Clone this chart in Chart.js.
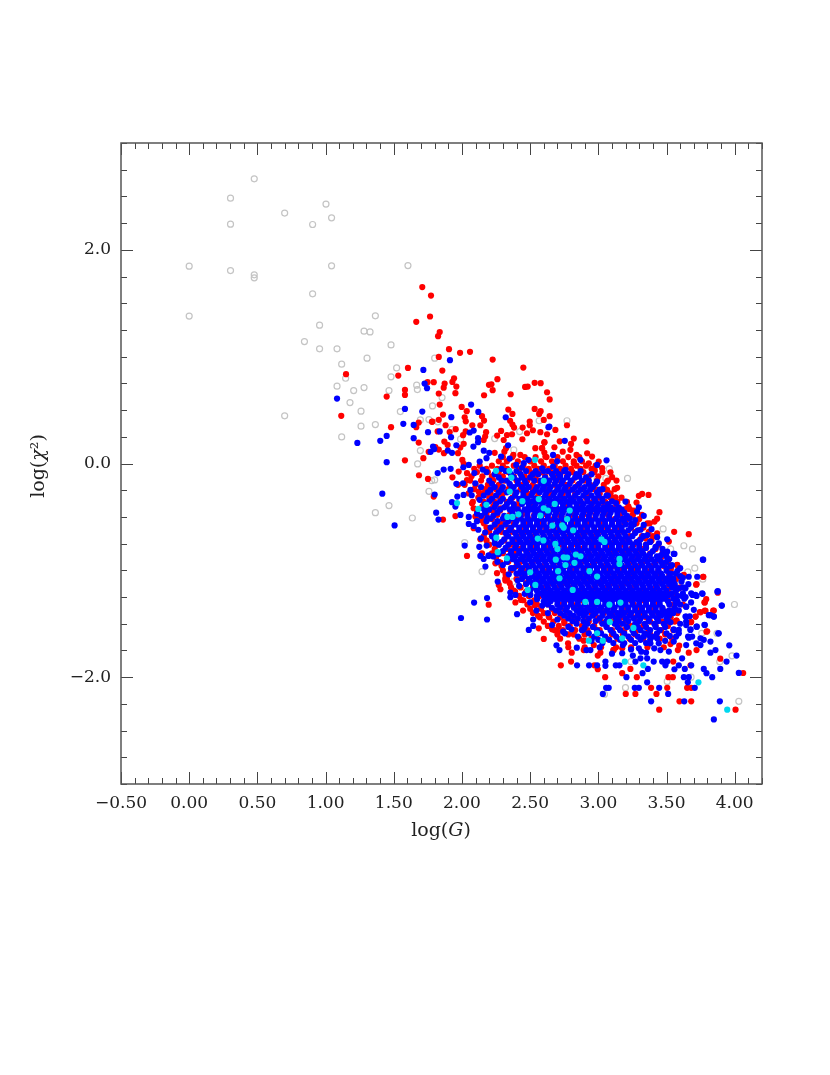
<!DOCTYPE html>
<html>
<head>
<meta charset="utf-8">
<title>log(G) vs log(chi2)</title>
<script src="https://cdn.jsdelivr.net/npm/chart.js@4/dist/chart.umd.min.js"></script>
<style>
  html, body { margin: 0; padding: 0; background: #fff; }
  canvas { display: block; }
</style>
</head>
<body>
<canvas id="scatterChart" width="830" height="1075"></canvas>
<script>
// values, [log G, log chi2]
const greyPoints = [
  [0.00,1.847],[0.00,1.38],[0.303,2.484],[0.303,2.24],[0.303,1.806],[0.477,2.665],[0.477,1.766],[0.477,1.738],
  [0.70,2.344],[0.70,0.446],[0.905,2.237],[0.905,1.588],[0.956,1.295],[0.956,1.073],[0.845,1.141],[1.003,2.428],
  [1.044,2.30],[1.044,1.85],[1.084,1.073],[1.118,0.93],[1.147,0.798],[1.084,0.724],[1.206,0.683],[1.282,0.711],
  [1.179,0.57],[1.26,0.49],[1.26,0.349],[1.365,0.364],[1.118,0.249],[1.282,1.239],[1.326,1.232],[1.365,1.382],
  [1.48,1.11],[1.304,0.986],[1.604,1.853],[1.521,0.895],[1.48,0.811],[1.465,0.683],[1.668,0.733],[1.673,0.692],
  [1.80,0.986],[1.784,0.539],[1.548,0.486],[1.695,0.408],[1.758,0.411],[1.823,0.39],[1.695,0.121],[1.675,-0.004],
  [1.854,0.617],[1.99,0.228],[2.24,0.233],[2.423,0.299],[2.566,0.40],[2.38,0.127],[1.778,-0.16],[1.80,-0.154],
  [1.758,-0.26],[1.465,-0.394],[1.365,-0.46],[1.636,-0.51],[2.02,-0.74],[1.927,0.32],[2.77,0.40],[2.99,-0.147],
  [3.08,-0.05],[3.055,-0.14],[3.214,-0.14],[3.475,-0.612],[3.627,-0.77],[3.69,-0.80],[3.53,-0.80],[3.707,-0.98],
  [3.656,-1.015],[3.766,-1.083],[3.998,-1.32],[3.758,-1.59],[3.87,-1.59],[2.147,-1.012],[2.375,-1.106],[2.893,-1.62],
  [3.199,-2.098],[3.045,-2.16],[3.505,-2.04],[3.68,-2.0],[3.89,-1.855],[3.98,-1.80],[4.03,-2.226],[3.24,-1.855],
  [3.573,-1.26],[3.565,-1.106]
];

const redPoints = [
  [1.709,1.651],[1.773,1.572],[1.766,1.376],[1.665,1.326],[1.825,1.192],[1.837,1.23],[1.83,0.998],[1.15,0.836],
  [1.604,0.895],[1.533,0.823],[1.748,0.761],[1.793,0.761],[1.582,0.689],[1.582,0.642],[1.448,0.626],[1.83,0.655],
  [1.837,0.552],[1.115,0.446],[1.48,0.34],[1.683,0.383],[1.665,0.34],[1.78,0.39],[1.83,0.409],[1.683,0.196],
  [1.756,0.109],[1.83,0.13],[1.805,0.153],[1.582,0.03],[1.717,0.05],[1.905,1.07],[1.986,1.036],[2.059,1.045],
  [2.225,0.973],[1.856,0.87],[2.45,0.898],[2.26,0.789],[1.942,0.798],[1.93,0.764],[1.959,0.72],[1.873,0.748],
  [1.866,0.71],[2.198,0.736],[2.216,0.742],[2.225,0.686],[2.162,0.639],[2.357,0.648],[1.952,0.658],[2.463,0.717],
  [2.482,0.72],[2.533,0.755],[2.577,0.752],[2.624,0.667],[2.643,0.60],[1.998,0.53],[2.035,0.49],[2.34,0.505],
  [2.37,0.464],[2.533,0.511],[2.577,0.49],[2.566,0.464],[2.643,0.443],[1.861,0.458],[2.02,0.433],[2.028,0.395],
  [2.147,0.443],[2.162,0.402],[2.135,0.358],[2.353,0.40],[2.37,0.364],[2.382,0.336],[2.497,0.393],[2.497,0.358],
  [2.445,0.336],[2.60,0.408],[1.88,0.358],[1.783,0.392],[2.076,0.358],[1.954,0.321],[1.91,0.295],[1.822,0.30],
  [2.008,0.265],[2.027,0.30],[2.177,0.293],[2.17,0.252],[2.287,0.305],[2.258,0.261],[2.33,0.267],[2.367,0.274],
  [2.477,0.283],[2.52,0.311],[2.575,0.293],[2.624,0.274],[2.306,0.22],[2.443,0.227],[2.604,0.196],[1.871,0.205],
  [1.895,0.174],[2.013,0.184],[1.988,0.149],[2.159,0.22],[2.323,0.143],[2.311,0.111],[2.538,0.143],[2.587,0.143],
  [2.604,0.102],[1.868,0.097],[1.971,0.097],[2.003,0.033],[2.013,-0.003],[2.24,0.10],[2.377,0.08],[2.428,0.08],
  [1.685,-0.11],[1.751,-0.144],[1.93,-0.129],[1.793,-0.31],[1.861,-0.525],[1.952,-0.492],[2.037,-0.091],[1.976,-0.076],
  [2.074,-0.372],[2.086,-0.419],[2.098,-0.497],[2.135,-0.528],[2.086,-0.606],[1.971,-0.20],[2.135,-0.709],[2.037,-0.865],
  [2.147,-0.84],[2.208,-0.435],[2.233,-0.45],[2.123,-0.262],[2.159,-0.278],[2.037,-0.155],[2.282,-0.42],
  [2.77,0.358],[2.685,0.314],[2.717,0.208],[2.82,0.233],[2.80,0.183],[2.795,0.128],[2.913,0.208],[2.678,0.152],
  [2.605,0.20],[2.588,0.143],[2.612,0.065],[2.739,0.111],[2.84,0.08],[2.918,0.096],[2.954,0.065],[2.93,0.002],
  [2.82,0.002],[2.974,-0.066],[3.003,0.018],[3.028,-0.044],[3.089,-0.082],[3.064,-0.169],[3.133,-0.16],[3.101,-0.128],
  [3.138,-0.228],[3.064,-0.247],[2.991,-0.247],[3.125,-0.316],[3.297,-0.303],[3.321,-0.285],[3.368,-0.294],[3.28,-0.366],
  [3.199,-0.428],[3.23,-0.428],[3.253,-0.484],[3.448,-0.456],[3.431,-0.516],[3.412,-0.544],[3.377,-0.56],[3.556,-0.64],
  [3.663,-0.662],[3.431,-0.653],[3.346,-0.70],[3.517,-0.731],[3.578,-0.95],[3.534,-0.974],[3.622,-1.05],[3.769,-1.06],
  [3.717,-1.134],[3.791,-1.27],[3.59,-1.168],[3.778,-1.30],[3.573,-1.47],[3.713,-1.433],[3.749,-1.393],[3.786,-1.38],
  [3.842,-1.378],[3.681,-1.483],[3.798,-1.57],[2.196,-1.321],[2.245,-0.934],[2.282,-0.928],[2.257,-1.027],[2.318,-1.074],
  [2.318,-1.096],[2.27,-1.137],[2.282,-1.177],[2.38,-1.19],[2.433,-1.277],[2.392,-1.30],[2.448,-1.377],[2.563,-1.543],
  [2.558,-1.424],[2.636,-1.433],[2.534,-1.327],[2.60,-1.642],[2.661,-1.552],[2.702,-1.574],[2.751,-1.496],[2.82,-1.60],
  [2.778,-1.683],[2.893,-1.658],[2.805,-1.771],[2.893,-1.746],[2.80,-1.854],[2.725,-1.889],[2.996,-1.798],[3.015,-1.771],
  [2.967,-1.7],[2.971,-1.889],[2.996,-1.926],[3.11,-1.746],[3.175,-1.73],[3.235,-1.923],[3.175,-1.963],[3.05,-2.0],
  [3.282,-2.0],[3.387,-2.1],[3.426,-2.157],[3.201,-2.157],[3.272,-2.157],[3.505,-2.1],[3.514,-2.0],[3.546,-2.0],
  [3.651,-2.1],[3.681,-2.1],[3.595,-2.226],[3.681,-2.226],[3.446,-2.304],[4.006,-2.304],[4.062,-1.961],[3.894,-1.827],
  [3.676,-1.889],[3.549,-1.854],[3.663,-1.771],[3.72,-1.746],[3.593,-1.705],[3.583,-1.746],[3.529,-1.69],[3.793,-1.574],
  [3.847,-1.377],[3.781,-1.377],[3.744,-1.39],[3.712,-1.433],[3.676,-1.486],[3.781,-1.3],[3.72,-1.13],[3.578,-0.949],
  [3.627,-1.043],[3.769,-1.06],[3.876,-1.21],[3.573,-1.47],[3.113,-1.745]
];

// dense middle of the red cloud, each row is [log chi2, log G, log G, ...]
const redCoreRows = [
  [0.02,2.27,2.33,2.41,2.50,2.58,2.66,2.74,2.82,2.88],
  [-0.05,2.09,2.18,2.26,2.33,2.42,2.49,2.56,2.64,2.72,2.80,2.87,2.95],
  [-0.12,2.07,2.15,2.22,2.30,2.38,2.46,2.54,2.61,2.69,2.77,2.85,2.93,3.00],
  [-0.20,2.02,2.10,2.19,2.27,2.35,2.44,2.52,2.60,2.68,2.76,2.85,2.94,3.04],
  [-0.28,2.05,2.13,2.21,2.30,2.39,2.48,2.56,2.65,2.74,2.83,2.92,3.01,3.09],
  [-0.36,2.08,2.16,2.24,2.33,2.42,2.51,2.60,2.69,2.78,2.87,2.96,3.05,3.14,3.21],
  [-0.44,2.11,2.19,2.28,2.37,2.46,2.55,2.64,2.73,2.82,2.91,3.00,3.09,3.18,3.26],
  [-0.52,2.15,2.22,2.31,2.40,2.49,2.58,2.67,2.76,2.85,2.94,3.03,3.12,3.21,3.30],
  [-0.60,2.18,2.25,2.34,2.43,2.52,2.61,2.70,2.79,2.88,2.97,3.06,3.15,3.24,3.33],
  [-0.68,2.16,2.24,2.33,2.42,2.51,2.60,2.69,2.78,2.87,2.96,3.05,3.14,3.23,3.32,3.40],
  [-0.76,2.20,2.27,2.36,2.45,2.54,2.63,2.72,2.81,2.90,2.99,3.08,3.17,3.26,3.35,3.44],
  [-0.84,2.22,2.30,2.39,2.48,2.57,2.66,2.75,2.84,2.93,3.02,3.11,3.20,3.29,3.38,3.47],
  [-0.92,2.27,2.34,2.43,2.52,2.61,2.70,2.79,2.88,2.97,3.06,3.15,3.24,3.33,3.42,3.51],
  [-1.00,2.30,2.36,2.45,2.54,2.63,2.72,2.81,2.90,2.99,3.08,3.17,3.26,3.35,3.44,3.53],
  [-1.08,2.33,2.40,2.49,2.58,2.67,2.76,2.85,2.94,3.03,3.12,3.21,3.30,3.39,3.48,3.57],
  [-1.16,2.36,2.43,2.52,2.61,2.70,2.79,2.88,2.97,3.06,3.15,3.24,3.33,3.42,3.51,3.60],
  [-1.24,2.42,2.49,2.57,2.66,2.75,2.84,2.93,3.02,3.11,3.20,3.29,3.38,3.47,3.56],
  [-1.32,2.48,2.55,2.63,2.72,2.81,2.90,2.99,3.08,3.17,3.26,3.35,3.44,3.53,3.62],
  [-1.40,2.52,2.60,2.68,2.77,2.86,2.95,3.04,3.13,3.22,3.31,3.40,3.49,3.58],
  [-1.48,2.60,2.67,2.75,2.84,2.93,3.02,3.11,3.20,3.29,3.38,3.47,3.56],
  [-1.56,2.68,2.74,2.83,2.92,3.01,3.10,3.19,3.28,3.37,3.46,3.55],
  [-1.64,2.72,2.86,2.95,3.06,3.14,3.23,3.33,3.45,3.54],
  [-1.72,2.78,2.90,3.02,3.13,3.24,3.36,3.48]
];

// second pass over the red cloud, sitting between the rows above
const redFillRows = [
  [0.06,2.30,2.37,2.46,2.54,2.62,2.70,2.78,2.86],
  [-0.02,2.13,2.22,2.30,2.38,2.45,2.53,2.60,2.68,2.76,2.84,2.91,2.98],
  [-0.08,2.11,2.19,2.27,2.34,2.42,2.50,2.58,2.65,2.73,2.81,2.89,2.97,3.03],
  [-0.16,2.06,2.14,2.23,2.31,2.40,2.48,2.56,2.64,2.72,2.81,2.90,2.99,3.07],
  [-0.24,2.09,2.17,2.25,2.34,2.43,2.52,2.61,2.70,2.79,2.88,2.97,3.05,3.12],
  [-0.32,2.12,2.20,2.28,2.37,2.46,2.55,2.64,2.73,2.82,2.91,3.00,3.09,3.17],
  [-0.40,2.15,2.23,2.32,2.41,2.50,2.59,2.68,2.77,2.86,2.95,3.04,3.13,3.22],
  [-0.48,2.18,2.26,2.35,2.44,2.53,2.62,2.71,2.80,2.89,2.98,3.07,3.16,3.25,3.32],
  [-0.56,2.16,2.28,2.38,2.47,2.56,2.65,2.74,2.83,2.92,3.01,3.10,3.19,3.28,3.36],
  [-0.64,2.20,2.29,2.37,2.46,2.55,2.64,2.73,2.82,2.91,3.00,3.09,3.18,3.27,3.37],
  [-0.72,2.18,2.31,2.40,2.49,2.58,2.67,2.76,2.85,2.94,3.03,3.12,3.21,3.30,3.39],
  [-0.80,2.24,2.33,2.43,2.52,2.61,2.70,2.79,2.88,2.97,3.06,3.15,3.24,3.33,3.42],
  [-0.88,2.25,2.38,2.47,2.56,2.65,2.74,2.83,2.92,3.01,3.10,3.19,3.28,3.37,3.46],
  [-0.96,2.29,2.40,2.49,2.58,2.67,2.76,2.85,2.94,3.03,3.12,3.21,3.30,3.39,3.48],
  [-1.04,2.32,2.44,2.53,2.62,2.71,2.80,2.89,2.98,3.07,3.16,3.25,3.34,3.43,3.52],
  [-1.12,2.35,2.47,2.56,2.65,2.74,2.83,2.92,3.01,3.10,3.19,3.28,3.37,3.46,3.55],
  [-1.20,2.39,2.47,2.61,2.70,2.79,2.88,2.97,3.06,3.15,3.24,3.33,3.42,3.51],
  [-1.28,2.45,2.53,2.61,2.70,2.79,2.88,2.97,3.06,3.15,3.24,3.33,3.42,3.51],
  [-1.36,2.50,2.58,2.66,2.75,2.84,2.93,3.02,3.11,3.20,3.29,3.38,3.47,3.56],
  [-1.44,2.57,2.64,2.72,2.81,2.90,2.99,3.08,3.17,3.26,3.35,3.44,3.53],
  [-1.52,2.63,2.71,2.79,2.88,2.97,3.06,3.15,3.24,3.33,3.42,3.51],
  [-1.60,2.70,2.78,2.90,2.99,3.10,3.18,3.27,3.38,3.49]
];

const bluePoints = [
  [1.717,0.876],[1.726,0.748],[1.744,0.705],[1.084,0.608],[1.582,0.511],[1.709,0.486],[1.57,0.371],[1.646,0.361],
  [1.751,0.293],[1.837,0.30],[1.448,0.258],[1.401,0.212],[1.233,0.193],[1.646,0.237],[1.788,0.158],[1.797,0.135],
  [1.77,0.109],[1.448,0.012],[1.912,0.967],[1.922,0.434],[2.067,0.552],[2.12,0.483],[2.321,0.433],[2.634,0.34],
  [2.057,0.29],[2.086,0.308],[1.92,0.246],[2.118,0.237],[2.118,0.20],[2.084,0.158],[1.959,0.171],[2.338,0.171],
  [1.896,0.121],[1.927,0.10],[2.16,0.12],[2.2,0.10],[2.18,0.05],[2.287,0.065],[2.35,0.046],[2.398,-0.013],
  [2.453,0.003],[2.487,0.034],[2.13,0.018],[1.866,-0.057],[1.917,-0.05],[1.822,-0.09],[2.01,-0.035],[2.05,-0.013],
  [2.091,-0.09],[2.152,-0.057],[1.959,-0.19],[2.008,-0.185],[2.098,-0.185],[2.062,-0.247],[1.80,-0.29],[1.966,-0.31],
  [2.012,-0.294],[2.071,-0.297],[1.416,-0.282],[1.927,-0.362],[1.952,-0.403],[1.811,-0.46],[1.828,-0.525],[1.989,-0.481],
  [2.05,-0.50],[1.506,-0.58],[2.11,-0.54],[2.05,-0.566],[2.086,-0.584],[2.02,-0.768],[2.127,-0.78],[2.181,-0.768],
  [2.135,-0.865],[2.24,-0.746],[2.196,-0.865],[2.17,-0.646],[2.188,-0.512],[2.16,-0.427],
  [2.641,0.346],[2.754,0.212],[2.668,0.08],[2.869,0.034],[3.06,0.03],[2.991,-0.013],[2.698,0.02],[2.668,-0.03],
  [2.759,-0.06],[2.588,-0.045],[3.199,-0.356],[3.297,-0.41],[3.284,-0.45],[3.333,-0.49],[3.24,-0.566],[3.333,-0.575],
  [3.39,-0.615],[3.431,-0.69],[3.505,-0.71],[3.444,-0.748],[3.382,-0.731],[3.553,-0.846],[3.505,-0.825],[3.455,-0.865],
  [3.769,-0.90],[3.5,-0.92],[3.566,-1.03],[3.663,-1.06],[3.725,-1.06],[3.634,-1.165],[3.578,-1.168],[3.529,-1.105],
  [3.69,-1.23],[3.72,-1.24],[3.764,-1.22],[3.873,-1.20],[3.905,-1.33],[3.847,-1.433],[3.822,-1.42],[3.644,-1.34],
  [3.614,-1.24],[3.517,-1.23],[3.639,-1.433],[3.644,-1.48],[3.72,-1.527],[3.778,-1.51],[3.675,-1.558],[3.883,-1.59],
  [3.553,-1.558],[3.59,-1.59],[3.529,-1.486],[3.492,-1.386],[3.553,-1.37],[3.566,-1.31],[3.658,-1.62],[3.749,-1.636],
  [1.993,-1.446],[2.089,-1.302],[2.184,-1.26],[2.184,-1.46],[2.196,-0.859],[2.159,-0.893],[2.172,-0.965],[2.27,-0.846],
  [2.355,-1.208],[2.355,-1.252],[2.392,-1.23],[2.262,-1.105],[2.343,-1.037],[2.409,-1.096],[2.419,-1.146],[2.502,-1.23],
  [2.551,-1.27],[2.546,-1.377],[2.404,-1.41],[2.522,-1.46],[2.522,-1.52],[2.49,-1.558],[2.661,-1.512],[2.742,-1.574],
  [2.754,-1.59],[2.693,-1.702],[2.715,-1.746],[2.842,-1.724],[2.913,-1.746],[2.942,-1.746],[2.803,-1.552],[2.893,-1.552],
  [2.844,-1.889],[2.932,-1.889],[2.991,-1.889],[3.052,-1.854],[3.052,-1.894],[3.128,-1.889],[3.155,-1.889],[3.175,-1.776],
  [3.253,-1.798],[3.272,-1.854],[3.206,-2.0],[3.324,-1.963],[3.363,-1.923],[3.358,-2.048],[3.057,-2.1],[3.076,-2.1],
  [3.033,-2.157],[3.267,-2.1],[3.297,-2.1],[3.446,-2.1],[3.512,-2.157],[3.387,-2.226],[3.63,-2.226],[3.891,-2.226],
  [3.847,-2.396],[3.707,-2.1],[3.656,-2.048],[3.627,-2.0],[3.663,-2.0],[3.59,-1.889],[3.558,-1.926],[3.634,-1.923],
  [3.681,-1.889],[3.773,-1.923],[3.793,-1.963],[3.835,-2.0],[3.894,-1.923],[3.94,-1.854],[4.013,-1.798],[4.03,-1.96],
  [3.96,-1.702],[3.859,-1.746],[3.822,-1.771],[3.614,-1.824],[3.505,-1.854],[3.492,-1.889],[3.406,-1.854],[3.358,-1.824],
  [3.309,-1.824],[3.468,-1.854],[3.455,-1.746],[3.517,-1.76],[3.443,-1.683],[3.524,-1.614],[3.382,-1.683],[3.314,-1.761],
  [3.297,-1.73],[3.333,-1.62],[3.37,-1.605],[3.431,-1.636],[3.553,-1.552],[3.59,-1.558],[3.553,-1.667],[3.676,-1.552],
  [3.663,-1.63],[3.688,-1.62],[3.718,-1.683],[3.749,-1.70],[3.644,-1.70],[3.773,-1.65],[3.822,-1.667],[3.879,-1.59],
  [3.722,-1.527],[3.781,-1.512],[3.644,-1.512],[3.644,-1.433],[3.644,-1.34],[3.847,-1.433],[3.81,-1.42],[3.905,-1.33],
  [3.761,-1.215],[3.712,-1.23],[3.681,-1.215],[3.876,-1.194],[3.639,-1.168],[3.59,-1.168],[3.766,-0.90],[3.558,-0.846],
  // around the rim of the dense part
  [2.29,-0.05],[2.44,-0.04],[2.60,-0.07],[2.72,-0.11],[2.86,-0.12],[2.95,-0.10],[2.99,-0.17],[3.03,-0.24],
  [3.07,-0.30],[3.13,-0.37],[3.17,-0.43],[3.21,-0.49],[3.27,-0.53],[3.31,-0.62],[3.36,-0.67],[3.42,-0.78],
  [3.47,-0.80],[3.50,-0.87],[3.53,-0.96],[3.60,-0.98],[3.62,-1.07],[3.66,-1.13],[3.64,-1.25],[3.68,-1.30],
  [3.70,-1.37],[3.67,-1.43],[3.60,-1.50],[3.57,-1.62],[3.49,-1.66],[3.41,-1.73],[3.35,-1.77],[3.24,-1.74],
  [3.18,-1.70],[3.10,-1.78],[3.01,-1.72],[2.95,-1.66],[2.85,-1.62],[2.78,-1.53],[2.70,-1.46],[2.63,-1.40],
  [2.59,-1.33],[2.50,-1.30],[2.46,-1.22],[2.42,-1.03],[2.36,-0.98],[2.30,-0.95],[2.26,-0.92],[2.23,-0.87],
  [2.14,-0.70],[2.12,-0.62],[2.11,-0.47],[2.13,-0.34],[2.14,-0.22],[2.20,-0.16],[2.24,-0.10],[2.18,-0.08]
];

// dense middle of the blue cloud, same row layout as redCoreRows
const blueCoreRows = [
  [-0.10,2.36,2.43,2.52,2.56,2.66,2.71,2.78,2.84],
  [-0.16,2.29,2.33,2.41,2.46,2.53,2.58,2.64,2.69,2.74,2.80,2.88,2.93],
  [-0.22,2.24,2.30,2.38,2.44,2.49,2.55,2.60,2.65,2.71,2.76,2.83,2.90,2.96],
  [-0.27,2.19,2.27,2.33,2.40,2.45,2.52,2.57,2.62,2.68,2.73,2.78,2.85,2.91,2.99],
  [-0.33,2.22,2.30,2.36,2.42,2.48,2.54,2.59,2.64,2.69,2.75,2.80,2.86,2.92,2.97,3.03],
  [-0.38,2.17,2.25,2.33,2.38,2.44,2.49,2.54,2.59,2.64,2.69,2.74,2.79,2.84,2.89,2.95,3.00,3.07],
  [-0.43,2.20,2.28,2.35,2.41,2.46,2.51,2.56,2.61,2.66,2.71,2.76,2.81,2.86,2.91,2.96,3.01,3.06,3.12],
  [-0.49,2.14,2.23,2.31,2.38,2.43,2.48,2.53,2.58,2.63,2.68,2.73,2.78,2.83,2.88,2.93,2.98,3.03,3.08,3.14],
  [-0.54,2.18,2.26,2.34,2.40,2.45,2.50,2.55,2.60,2.65,2.70,2.75,2.80,2.85,2.90,2.95,3.00,3.05,3.10,3.15,3.19],
  [-0.60,2.21,2.29,2.36,2.42,2.47,2.52,2.57,2.62,2.67,2.72,2.77,2.82,2.87,2.92,2.97,3.02,3.07,3.12,3.17,3.24],
  [-0.65,2.25,2.32,2.39,2.44,2.49,2.54,2.59,2.64,2.69,2.74,2.79,2.84,2.89,2.94,2.99,3.04,3.09,3.14,3.19,3.27],
  [-0.71,2.24,2.31,2.37,2.42,2.47,2.52,2.57,2.62,2.67,2.72,2.77,2.82,2.87,2.92,2.97,3.02,3.07,3.12,3.17,3.22,3.31],
  [-0.76,2.27,2.34,2.40,2.45,2.50,2.55,2.60,2.65,2.70,2.75,2.80,2.85,2.90,2.95,3.00,3.05,3.10,3.15,3.20,3.25,3.30,3.35],
  [-0.82,2.30,2.36,2.42,2.47,2.52,2.57,2.62,2.67,2.72,2.77,2.82,2.87,2.92,2.97,3.02,3.07,3.12,3.17,3.22,3.27,3.32,3.40],
  [-0.87,2.34,2.39,2.45,2.50,2.55,2.60,2.65,2.70,2.75,2.80,2.85,2.90,2.95,3.00,3.05,3.10,3.15,3.20,3.25,3.30,3.35,3.43],
  [-0.92,2.33,2.40,2.46,2.51,2.56,2.61,2.66,2.71,2.76,2.81,2.86,2.91,2.96,3.01,3.06,3.11,3.16,3.21,3.26,3.31,3.36,3.41,3.46],
  [-0.98,2.38,2.44,2.49,2.54,2.59,2.64,2.69,2.74,2.79,2.84,2.89,2.94,2.99,3.04,3.09,3.14,3.19,3.24,3.29,3.34,3.39,3.44,3.50],
  [-1.03,2.40,2.46,2.51,2.56,2.61,2.66,2.71,2.76,2.81,2.86,2.91,2.96,3.01,3.06,3.11,3.16,3.21,3.26,3.31,3.36,3.41,3.46,3.53],
  [-1.08,2.44,2.49,2.54,2.59,2.64,2.69,2.74,2.79,2.84,2.89,2.94,2.99,3.04,3.09,3.14,3.19,3.24,3.29,3.34,3.39,3.44,3.49,3.55],
  [-1.13,2.47,2.52,2.57,2.62,2.67,2.72,2.77,2.82,2.87,2.92,2.97,3.02,3.07,3.12,3.17,3.22,3.27,3.32,3.37,3.42,3.47,3.52,3.56],
  [-1.19,2.50,2.55,2.60,2.65,2.70,2.75,2.80,2.85,2.90,2.95,3.00,3.05,3.10,3.15,3.20,3.25,3.30,3.35,3.40,3.45,3.50,3.57],
  [-1.24,2.55,2.60,2.65,2.70,2.75,2.80,2.85,2.90,2.95,3.00,3.05,3.10,3.15,3.20,3.25,3.30,3.35,3.40,3.45,3.50,3.58],
  [-1.29,2.60,2.65,2.70,2.75,2.80,2.85,2.90,2.95,3.00,3.05,3.10,3.15,3.20,3.25,3.30,3.35,3.40,3.45,3.51,3.58],
  [-1.35,2.66,2.72,2.77,2.82,2.87,2.92,2.97,3.02,3.07,3.12,3.17,3.22,3.27,3.32,3.37,3.42,3.47,3.56],
  [-1.40,2.72,2.79,2.86,2.91,2.98,3.03,3.08,3.14,3.19,3.24,3.29,3.34,3.39,3.44,3.49,3.55],
  [-1.45,2.78,2.85,2.93,3.01,3.07,3.13,3.20,3.26,3.31,3.37,3.43,3.50],
  [-1.50,2.84,2.92,3.03,3.12,3.18,3.27,3.34,3.41,3.48],
  [-1.56,2.88,2.99,3.09,3.16,3.25,3.31,3.38,3.45],
  [-1.62,2.97,3.05,3.13,3.22,3.29,3.40],
  [-1.68,3.03,3.11,3.19,3.27,3.35]
];

// second pass over the blue cloud, sitting between the rows above
const blueFillRows = [
  [-0.07,2.32,2.40,2.47,2.54,2.63,2.69,2.75,2.87],
  [-0.13,2.27,2.38,2.44,2.50,2.61,2.67,2.72,2.77,2.83,2.91],
  [-0.19,2.22,2.35,2.41,2.47,2.58,2.63,2.68,2.73,2.79,2.86,2.93,2.98],
  [-0.245,2.21,2.29,2.36,2.47,2.54,2.59,2.64,2.70,2.75,2.81,2.87,2.94,3.01],
  [-0.30,2.16,2.25,2.39,2.45,2.51,2.61,2.67,2.72,2.78,2.83,2.89,2.95,3.00,3.06],
  [-0.355,2.20,2.28,2.35,2.46,2.52,2.57,2.62,2.67,2.72,2.77,2.82,2.87,2.92,2.98,3.03,3.10],
  [-0.41,2.24,2.31,2.38,2.49,2.53,2.58,2.63,2.69,2.74,2.79,2.84,2.88,2.93,2.99,3.04,3.09,3.15],
  [-0.46,2.17,2.26,2.37,2.43,2.48,2.54,2.59,2.64,2.69,2.74,2.79,2.84,2.89,2.94,2.99,3.04,3.09,3.14,3.19],
  [-0.515,2.21,2.30,2.37,2.43,2.48,2.53,2.58,2.63,2.68,2.73,2.78,2.83,2.88,2.93,2.98,3.03,3.08,3.13,3.18,3.23],
  [-0.57,2.24,2.32,2.39,2.45,2.50,2.55,2.60,2.65,2.70,2.75,2.80,2.85,2.90,2.95,3.00,3.05,3.10,3.15,3.20,3.26],
  [-0.625,2.27,2.35,2.42,2.47,2.52,2.57,2.62,2.67,2.72,2.77,2.82,2.87,2.92,2.97,3.02,3.07,3.12,3.17,3.22,3.29],
  [-0.68,2.22,2.34,2.40,2.45,2.50,2.55,2.60,2.65,2.70,2.75,2.80,2.85,2.90,2.95,3.00,3.05,3.10,3.15,3.20,3.25,3.33],
  [-0.735,2.29,2.37,2.43,2.48,2.53,2.58,2.63,2.68,2.73,2.78,2.83,2.88,2.93,2.98,3.03,3.08,3.13,3.18,3.23,3.28,3.38],
  [-0.79,2.32,2.39,2.45,2.50,2.55,2.60,2.65,2.70,2.75,2.80,2.85,2.90,2.95,3.00,3.05,3.10,3.15,3.20,3.25,3.30,3.35,3.42],
  [-0.845,2.36,2.42,2.48,2.53,2.58,2.63,2.68,2.73,2.78,2.83,2.88,2.93,2.98,3.03,3.08,3.13,3.18,3.23,3.28,3.33,3.38,3.47],
  [-0.895,2.37,2.43,2.49,2.54,2.59,2.64,2.69,2.74,2.79,2.84,2.89,2.94,2.99,3.04,3.09,3.14,3.19,3.24,3.29,3.34,3.39,3.44,3.52],
  [-0.95,2.41,2.47,2.52,2.57,2.62,2.67,2.72,2.77,2.82,2.87,2.92,2.97,3.02,3.07,3.12,3.17,3.22,3.27,3.32,3.37,3.42,3.47,3.54],
  [-1.005,2.43,2.49,2.54,2.59,2.64,2.69,2.74,2.79,2.84,2.89,2.94,2.99,3.04,3.09,3.14,3.19,3.24,3.29,3.34,3.39,3.44,3.50,3.58],
  [-1.055,2.46,2.52,2.57,2.62,2.67,2.72,2.77,2.82,2.87,2.92,2.97,3.02,3.07,3.12,3.17,3.22,3.27,3.32,3.37,3.42,3.47,3.52,3.60],
  [-1.105,2.50,2.55,2.60,2.65,2.70,2.75,2.80,2.85,2.90,2.95,3.00,3.05,3.10,3.15,3.20,3.25,3.30,3.35,3.40,3.45,3.50,3.55,3.61],
  [-1.16,2.53,2.58,2.63,2.68,2.73,2.78,2.83,2.88,2.93,2.98,3.03,3.08,3.13,3.18,3.23,3.28,3.33,3.38,3.43,3.48,3.54,3.62],
  [-1.215,2.58,2.63,2.68,2.73,2.78,2.83,2.88,2.93,2.98,3.03,3.08,3.13,3.18,3.23,3.28,3.33,3.38,3.43,3.48,3.54,3.62],
  [-1.265,2.63,2.68,2.73,2.78,2.83,2.88,2.93,2.98,3.03,3.08,3.13,3.18,3.23,3.28,3.33,3.38,3.43,3.48,3.55,3.63],
  [-1.32,2.63,2.70,2.75,2.80,2.85,2.90,2.95,3.00,3.05,3.10,3.15,3.20,3.25,3.30,3.35,3.40,3.45,3.52,3.60],
  [-1.375,2.69,2.76,2.84,2.89,2.95,3.00,3.06,3.11,3.17,3.22,3.27,3.32,3.37,3.42,3.47,3.52,3.59],
  [-1.425,2.75,2.82,2.89,2.96,3.03,3.10,3.16,3.23,3.29,3.34,3.40,3.46,3.52],
  [-1.475,2.81,2.89,2.98,3.06,3.15,3.22,3.30,3.37,3.44,3.51],
  [-1.53,2.90,2.96,3.06,3.14,3.21,3.29,3.35,3.42,3.49],
  [-1.59,2.93,3.02,3.11,3.19,3.26,3.34,3.43,3.50],
  [-1.65,3.00,3.08,3.16,3.24,3.31,3.38]
];

const cyanPoints = [
  [2.536,0.034],[2.25,-0.069],[2.348,-0.068],[2.362,-0.132],[2.60,-0.162],[2.35,-0.263],[2.443,-0.353],[2.563,-0.333],
  [2.179,-0.386],[1.964,-0.37],[2.12,-0.425],[2.60,-0.419],[2.63,-0.44],[2.333,-0.50],[2.37,-0.50],[2.414,-0.476],
  [2.575,-0.487],[2.252,-0.694],[2.556,-0.703],[2.597,-0.72],[2.262,-0.83],[2.33,-0.887],[2.68,-0.378],[2.771,-0.52],
  [2.663,-0.581],[2.79,-0.44],[2.735,-0.58],[2.746,-0.60],[2.815,-0.625],[2.685,-0.753],[2.70,-0.80],[3.023,-0.71],
  [3.045,-0.734],[2.746,-0.878],[2.771,-0.88],[2.688,-0.90],[2.835,-0.852],[2.869,-0.868],[2.759,-0.95],[2.825,-0.93],
  [3.155,-0.893],[3.155,-0.94],[2.705,-1.008],[2.715,-1.074],[2.935,-1.008],[2.991,-1.058],[2.812,-1.183],[2.905,-1.296],
  [2.991,-1.296],[3.081,-1.321],[3.162,-1.302],[3.084,-1.483],[3.257,-1.539],[2.991,-1.589],[3.175,-1.636],[2.50,-1.018],
  [2.538,-1.137],[2.482,-1.183],[2.93,-1.658],[3.033,-1.658],[3.194,-1.855],[3.33,-1.889],[3.734,-2.048],[3.945,-2.304]
];

const xMajorStep = 0.5;
const yMajorStep = 2;

// rows hold the y value first, then every x on that row
function rowsToPoints(rows) {
    const out = [];
    rows.forEach(function (row) {
        row.slice(1).forEach(function (x) { out.push({ x: x, y: row[0] }); });
    });
    return out;
}
function pairsToPoints(pairs) {
    return pairs.map(function (p) { return { x: p[0], y: p[1] }; });
}

function isMajor(value, step) {
    const r = value / step;
    return Math.abs(r - Math.round(r)) < 1e-6;
}
function minus(text) {
    return text.replace('-', '\u2212');
}

const FONT = '"DejaVu Serif", serif';
const INK = '#222222';

// inward ticks on all four sides, the frame, and the axis titles with the italic letter
const framePlugin = {
    id: 'frame',
    afterDraw(chart) {
        const c = chart.ctx;
        const a = chart.chartArea;
        const xs = chart.scales.x;
        const ys = chart.scales.y;
        c.save();
        c.strokeStyle = '#444444';
        c.lineWidth = 1;
        xs.ticks.forEach(function (t) {
            const px = Math.round(xs.getPixelForValue(t.value)) + 0.5;
            const len = isMajor(t.value, xMajorStep) ? 12 : 6;
            c.beginPath();
            c.moveTo(px, a.bottom); c.lineTo(px, a.bottom - len);
            c.moveTo(px, a.top); c.lineTo(px, a.top + len);
            c.stroke();
        });
        ys.ticks.forEach(function (t) {
            const py = Math.round(ys.getPixelForValue(t.value)) + 0.5;
            const len = isMajor(t.value, yMajorStep) ? 12 : 6;
            c.beginPath();
            c.moveTo(a.left, py); c.lineTo(a.left + len, py);
            c.moveTo(a.right, py); c.lineTo(a.right - len, py);
            c.stroke();
        });
        c.lineWidth = 1.5;
        c.strokeStyle = '#555555';
        c.strokeRect(a.left, a.top, a.right - a.left, a.bottom - a.top);

        drawTitle(c, 441, 836, 0, [['log(', false], ['G', true], [')', false]]);
        drawTitle(c, 44, 466, -Math.PI / 2, [['log(', false], ['\u03C7', true], ['\u00B2)', false]]);
        c.restore();
    }
};

function drawTitle(c, x, y, angle, parts) {
    c.save();
    c.translate(x, y);
    c.rotate(angle);
    c.fillStyle = INK;
    c.textBaseline = 'alphabetic';
    c.textAlign = 'left';
    let width = 0;
    parts.forEach(function (p) {
        c.font = (p[1] ? 'italic ' : '') + '19px ' + FONT;
        width += c.measureText(p[0]).width;
    });
    let pos = -width / 2;
    parts.forEach(function (p) {
        c.font = (p[1] ? 'italic ' : '') + '19px ' + FONT;
        c.fillText(p[0], pos, 0);
        pos += c.measureText(p[0]).width;
    });
    c.restore();
}

const scatterCtx = document.getElementById('scatterChart');

new Chart(scatterCtx, {
    type: 'scatter',
    data: {
        datasets: [
            {
                label: 'cyan',
                data: pairsToPoints(cyanPoints),
                pointRadius: 3.1,
                pointBorderWidth: 0,
                backgroundColor: '#00d8f0'
            },
            {
                label: 'blue',
                data: pairsToPoints(bluePoints).concat(rowsToPoints(blueCoreRows), rowsToPoints(blueFillRows)),
                pointRadius: 3.1,
                pointBorderWidth: 0,
                backgroundColor: '#0000ff'
            },
            {
                label: 'red',
                data: pairsToPoints(redPoints).concat(rowsToPoints(redCoreRows), rowsToPoints(redFillRows)),
                pointRadius: 3.1,
                pointBorderWidth: 0,
                backgroundColor: '#ff0000'
            },
            {
                label: 'grey',
                data: pairsToPoints(greyPoints),
                pointRadius: 3,
                pointBorderWidth: 1.2,
                borderColor: '#c4c4c4',
                backgroundColor: 'rgba(0,0,0,0)'
            }
        ]
    },
    options: {
        responsive: false,
        animation: false,
        layout: { padding: { left: 0, right: 68, top: 143, bottom: 231 } },
        plugins: {
            legend: { display: false },
            tooltip: { enabled: false }
        },
        scales: {
            x: {
                type: 'linear',
                min: -0.5,
                max: 4.2,
                grid: { display: false, drawTicks: false },
                border: { display: false },
                afterFit(scale) { scale.height = 60; },
                ticks: {
                    stepSize: 0.1,
                    autoSkip: false,
                    maxRotation: 0,
                    padding: 9,
                    color: INK,
                    font: { family: FONT, size: 17 },
                    callback(v) { return isMajor(v, xMajorStep) ? minus(v.toFixed(2)) : ''; }
                }
            },
            y: {
                type: 'linear',
                min: -3,
                max: 3,
                grid: { display: false, drawTicks: false },
                border: { display: false },
                afterFit(scale) { scale.width = 121; },
                ticks: {
                    stepSize: 0.25,
                    autoSkip: false,
                    padding: 10,
                    color: INK,
                    font: { family: FONT, size: 17 },
                    callback(v) { return isMajor(v, yMajorStep) ? minus(v.toFixed(1)) : ''; }
                }
            }
        }
    },
    plugins: [framePlugin]
});
</script>
</body>
</html>
